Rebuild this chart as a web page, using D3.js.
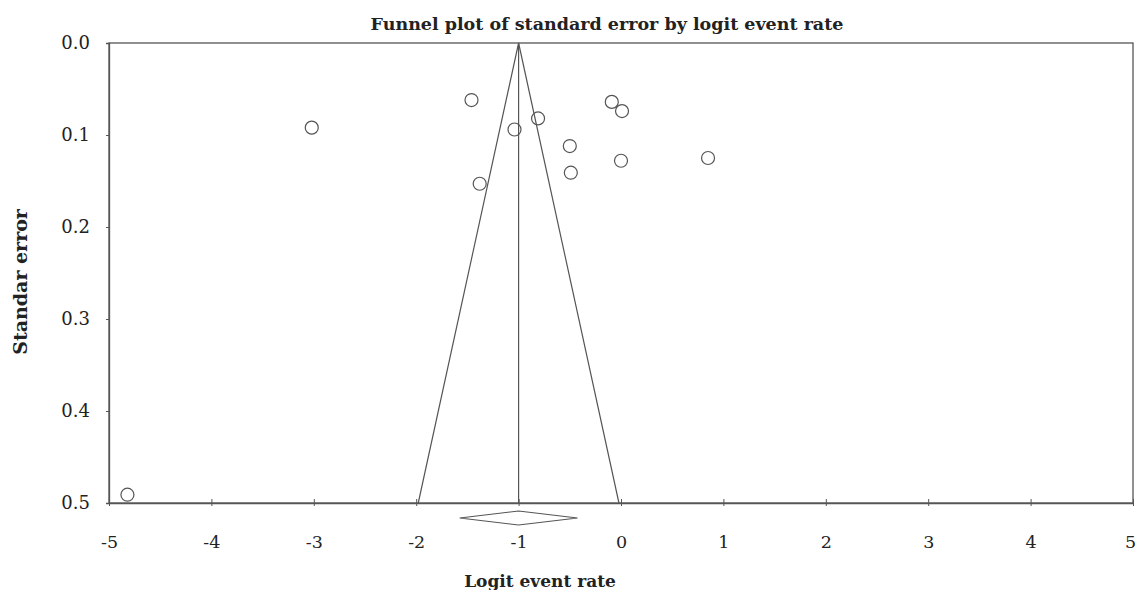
<!DOCTYPE html>
<html>
<head>
<meta charset="utf-8">
<script src="https://cdn.jsdelivr.net/npm/d3@7"></script>
<style>
  body { margin: 0; background: #fff; }
  text { font-family: "DejaVu Serif", "Liberation Serif", serif; fill: #222; }
</style>
</head>
<body>
<div id="chart"></div>
<script>
    // Study values
    const logitRate = [-4.82, -3.02, -1.46, -1.38, -1.04, -0.81, -0.50, -0.49, -0.09, 0.01, 0.00, 0.85];
    const stdError  = [0.491, 0.092, 0.062, 0.153, 0.094, 0.082, 0.112, 0.141, 0.064, 0.074, 0.128, 0.125];

    // Pooled estimate and its confidence interval (diamond)
    const pooled = -1.0;
    const pooledCI = [-1.575, -0.425];

    const xTicks = [-5, -4, -3, -2, -1, 0, 1, 2, 3, 4, 5];
    const yTicks = [0.0, 0.1, 0.2, 0.3, 0.4, 0.5];

    const data = logitRate.map((v, i) => ({ x: v, se: stdError[i] }));

    // Chart dimensions and margins
    const margin = { top: 43, right: 4, bottom: 87, left: 109 };
    const width = 1137 - margin.left - margin.right;
    const height = 590 - margin.top - margin.bottom;

    const svg = d3.select("#chart")
      .append("svg")
        .attr("width", 1137)
        .attr("height", 590)
      .append("g")
        .attr("transform", `translate(${margin.left},${margin.top})`);

    const x = d3.scaleLinear().domain([-5, 5]).range([0, width]);
    const y = d3.scaleLinear().domain([0, 0.5]).range([0, height]);

    const lineColor = "#555";

    // Frame (top and right border)
    svg.append("rect")
      .attr("width", width)
      .attr("height", height)
      .attr("fill", "none")
      .attr("stroke", lineColor)
      .attr("stroke-width", 1.3);

    // X axis (plain hyphen for negatives, as in the original)
    const xAxis = svg.append("g")
      .attr("transform", `translate(0,${height})`)
      .call(d3.axisBottom(x).tickValues(xTicks).tickSize(0).tickPadding(33).tickFormat(d => String(d)));
    xAxis.select(".domain").attr("stroke", lineColor).attr("stroke-width", 1.3);
    xAxis.selectAll(".tick line").remove();
    xAxis.selectAll(".tick").append("line")
      .attr("y1", -4).attr("y2", 3)
      .attr("stroke", lineColor);
    xAxis.selectAll("text").style("font-size", "17.5px").attr("fill", "#222");
    // keep the last label inside the window
    xAxis.selectAll(".tick text").filter(d => d === 5).attr("dx", -3);

    // Y axis
    const yAxis = svg.append("g")
      .call(d3.axisLeft(y).tickValues(yTicks).tickSize(3).tickPadding(16).tickFormat(d3.format(".1f")));
    yAxis.select(".domain").attr("stroke", lineColor).attr("stroke-width", 1.3);
    yAxis.selectAll(".tick line").attr("stroke", lineColor);
    yAxis.selectAll("text").style("font-size", "18px").attr("fill", "#222");

    // Funnel (pseudo 95% limits) and centre line
    const seMax = 0.5;
    svg.append("path")
      .attr("d", d3.line()([
        [x(pooled - 1.96 * seMax), y(seMax)],
        [x(pooled), y(0)],
        [x(pooled + 1.96 * seMax), y(seMax)]
      ]))
      .attr("fill", "none")
      .attr("stroke", lineColor)
      .attr("stroke-width", 1.2);

    svg.append("line")
      .attr("x1", x(pooled)).attr("x2", x(pooled))
      .attr("y1", y(0)).attr("y2", y(seMax))
      .attr("stroke", lineColor)
      .attr("stroke-width", 1.2);

    // Pooled diamond under the axis
    const dy = height + 15;
    svg.append("path")
      .attr("d", d3.line()([
        [x(pooledCI[0]), dy],
        [x(pooled), dy - 7],
        [x(pooledCI[1]), dy],
        [x(pooled), dy + 7]
      ]) + "Z")
      .attr("fill", "none")
      .attr("stroke", lineColor)
      .attr("stroke-width", 1.1);

    // Study points
    svg.selectAll(".dot")
      .data(data)
      .enter()
      .append("circle")
        .attr("class", "dot")
        .attr("cx", d => x(d.x))
        .attr("cy", d => y(d.se))
        .attr("r", 6.5)
        .attr("fill", "none")
        .attr("stroke", lineColor)
        .attr("stroke-width", 1.2);

    // Title
    svg.append("text")
      .attr("x", 498)
      .attr("y", -13)
      .attr("text-anchor", "middle")
      .style("font-size", "17.5px")
      .style("font-weight", "bold")
      .text("Funnel plot of standard error by logit event rate");

    // X axis label
    svg.append("text")
      .attr("x", 431)
      .attr("y", height + 84)
      .attr("text-anchor", "middle")
      .style("font-size", "17px")
      .style("font-weight", "bold")
      .text("Logit event rate");

    // Y axis label
    svg.append("text")
      .attr("transform", "rotate(-90)")
      .attr("x", -(282 - margin.top))
      .attr("y", -margin.left + 27)
      .attr("text-anchor", "middle")
      .style("font-size", "19px")
      .style("font-weight", "bold")
      .text("Standar error");
</script>
</body>
</html>
